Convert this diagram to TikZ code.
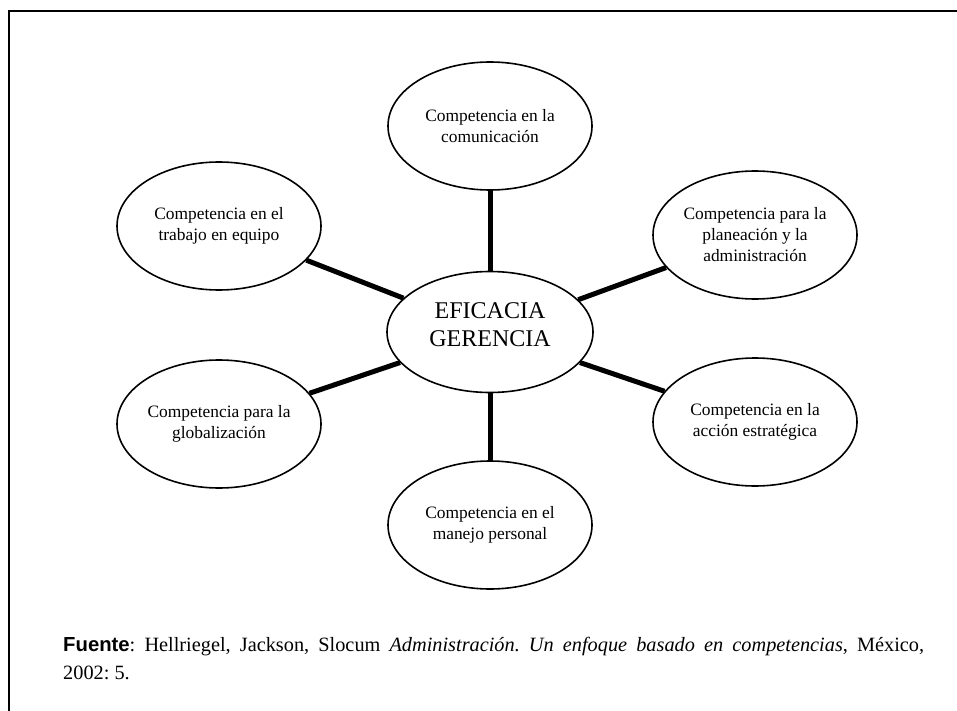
\documentclass[tikz,border=0pt]{standalone}
\usepackage{fontspec}
\setmainfont{Liberation Serif}
\newfontfamily\sansbold{Liberation Sans}
\usetikzlibrary{shapes.geometric}
\frenchspacing
\begin{document}
\begin{tikzpicture}[x=1pt,y=-1pt,
  comp/.style={ellipse, draw, line width=1.6pt, minimum width=204pt, minimum height=128pt,
    inner sep=0pt, align=center, font=\fontsize{17.4}{21}\selectfont},
  hub/.style={ellipse, draw, line width=1.6pt, minimum width=206pt, minimum height=121pt,
    inner sep=0pt},
  hubtext/.style={inner sep=0pt, align=center, font=\fontsize{24}{28}\selectfont},
  spoke/.style={line width=5pt},
  frame/.style={line width=2pt},
  source/.style={anchor=base west, inner sep=0pt, font=\fontsize{20.3}{24}\selectfont}]
\useasboundingbox (0,0) rectangle (957,711);

% open frame: left and top rules only
\coordinate (fbl) at (8.5,711);
\coordinate (ftl) at (8.5,11.5);
\coordinate (ftr) at (957,11.5);
\draw[frame] (fbl) -- (ftl) -- (ftr);

% hub and the six competencies
\node[hub] (core) at (490,332) {};
\node[hubtext] (coretext) at (490,325) {EFICACIA\\GERENCIA};
\node[comp] (com) at (490,126) {Competencia en la\\comunicación};
\node[comp] (plan) at (755,235) {Competencia para la\\planeación y la\\administración};
\node[comp] (acc) at (755,422) {Competencia en la\\acción estratégica};
\node[comp] (man) at (490,525) {Competencia en el\\manejo personal};
\node[comp] (glob) at (219,424) {Competencia para la\\globalización};
\node[comp] (team) at (219,226) {Competencia en el\\trabajo en equipo};

% spokes
\foreach \n in {com,plan,acc,man,glob,team}
  \draw[spoke] (core) -- (\n);

% source note, first line justified to the right margin
\node[source] (src1) at (63,651) {\makebox[861pt][s]{{\sansbold\bfseries Fuente}: Hellriegel, Jackson, Slocum \textit{Administración. Un enfoque basado en competencias}, México,}};
\node[source] (src2) at (63,679) {2002: 5.};
\end{tikzpicture}
\end{document}
